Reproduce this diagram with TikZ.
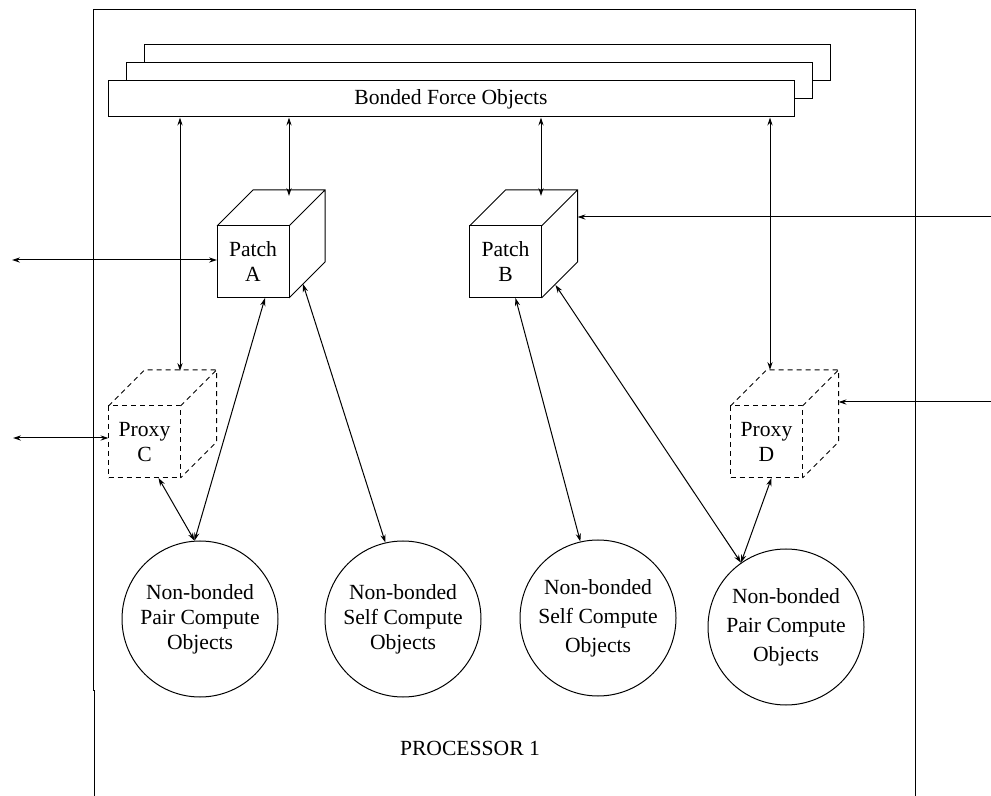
\documentclass[tikz,border=0pt]{standalone}
\usepackage{fontspec}
\setmainfont{Liberation Serif}
\usetikzlibrary{arrows.meta,calc}
\tikzset{%
  cube face/.style = {draw, fill=white, minimum size=36pt, inner sep=0pt,
    outer sep=0pt, align=center},
  proxy dash/.style = {dash pattern = {on 2.5pt off 2pt}},
  compute obj/.style = {draw, circle, minimum size=78pt, inner sep=0pt,
    align=center},
}

\begin{document}
\begin{tikzpicture}[x=0.5pt, y=-0.5pt, line width=0.5pt,
  >={Stealth[length=4pt,width=2.6pt]},
  font=\fontsize{10.8}{12.5}\selectfont]
\useasboundingbox (0,0) rectangle (991,796);
% processor frame
\draw[line width=0.45pt] (94,796) -- (94,690) -- (93,690) -- (93,9) -- (915,9)
  -- (915,796);
\node (proc) at (470,748) {PROCESSOR 1};
% bonded force objects, stacked
\draw[fill=white] (144,45) rectangle (830,81);
\draw[fill=white] (126,63) rectangle (812,99);
\node[draw, fill=white, minimum width=343pt, minimum height=18pt,
  inner sep=0pt] (bfo) at (451,99) {Bonded Force Objects};
% patches and proxies
\node[cube face] (pa) at (253,262) {Patch\\A};
\node[cube face] (pb) at (505.5,262) {Patch\\B};
\node[cube face, proxy dash] (pc) at (144.5,442) {Proxy\\C};
\node[cube face, proxy dash] (pd) at (766.5,442) {Proxy\\D};
\foreach \n in {pa,pb}
  \draw (\n.north west) -- ++(36,-36) -- ++(72,0) -- ++(0,72) -- (\n.south east)
        (\n.north east) -- ++(36,-36);
\foreach \n in {pc,pd}
  \draw[proxy dash] (\n.north west) -- ++(36,-36) -- ++(72,0) -- ++(0,72)
        -- (\n.south east) (\n.north east) -- ++(36,-36);
% compute objects
\node[compute obj] (npa) at (200,619) {Non-bonded\\Pair Compute\\Objects};
\node[compute obj] (nsa) at (403,619) {Non-bonded\\Self Compute\\Objects};
\node[compute obj] (nsb) at (598,618)
  {Non-bonded\\[2pt]Self Compute\\[2pt]Objects};
\node[compute obj] (npb) at (786,627)
  {Non-bonded\\[2pt]Pair Compute\\[2pt]Objects};
% free ends
\coordinate (pa top) at (289,196);
\coordinate (pb top) at (541,196);
\coordinate (pc top) at (180,371);
\coordinate (pd top) at (770,370);
\coordinate (west a) at (12,260);
\coordinate (west c) at (13,438);
\coordinate (east b) at (991,217);
\coordinate (east d) at (991,402);
% connectors
\draw[<->] (bfo.south -| pc top) -- (pc top);
\draw[<->] (bfo.south -| pa top) -- (pa top);
\draw[<->] (bfo.south -| pb top) -- (pb top);
\draw[<->] (bfo.south -| pd top) -- (pd top);
\draw[<->] (west a) -- (west a -| pa.west);
\draw[<->] (west c) -- (west c -| pc.west);
\draw[->] (east b) -- ($(east b -| pb.east)+(36,0)$);
\draw[->] (east d) -- ($(east d -| pd.east)+(36,0)$);
\draw[<->] ($(pa.south)+(12,0)$) -- (npa.94);
\draw[<->] ($(pc.south)+(14,0)$) -- (npa.94);
\draw[<->] ($(pa.south east)+(14,-14)$) -- (nsa.103);
\draw[<->] ($(pb.south)+(10,0)$) -- (nsb.103);
\draw[<->] ($(pb.south east)+(14,-13)$) -- (npb.125);
\draw[<->] ($(pd.south)+(5,0)$) -- (npb.125);
\end{tikzpicture}
\end{document}
